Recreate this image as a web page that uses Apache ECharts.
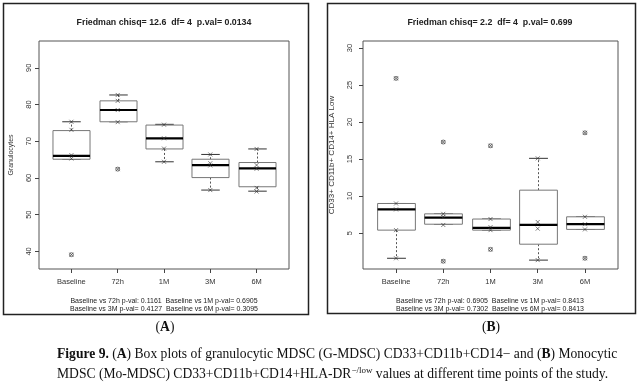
<!DOCTYPE html>
<html><head><meta charset="utf-8">
<script src="https://cdn.jsdelivr.net/npm/echarts@6/dist/echarts.min.js"></script>
<style>html,body{margin:0;padding:0;background:#fff}#c{width:640px;height:384px}</style>
</head><body><div id="c"></div>
<script>
const categories = ['Baseline', '72h', '1M', '3M', '6M'];
const catPos = [1, 2, 3, 4, 5];
// Panel A: [lower whisker, Q1, median, Q3, upper whisker]
const gStats = [
  [65.1, 65.1, 66.0, 72.9, 75.3],
  [75.3, 75.3, 78.5, 81.0, 82.6],
  [64.4, 67.9, 70.8, 74.4, 74.6],
  [56.7, 60.1, 63.5, 65.1, 66.4],
  [56.4, 57.6, 62.6, 64.2, 67.9]
];
const gOutliers = [[39.1], [62.4], [], [], []];
const gPoints = [
  [39.1, 65.3, 66.2, 73.1, 75.3],
  [62.4, 75.2, 78.5, 81.0, 82.6],
  [64.4, 68.0, 70.8, 74.5],
  [56.7, 63.4, 64.0, 66.4],
  [56.3, 57.3, 62.5, 63.5, 67.9]
];
const gTicks = [40, 50, 60, 70, 80, 90];
// Panel B
const mStats = [
  [1.6, 5.4, 8.2, 9.0, 9.0],
  [6.2, 6.2, 7.1, 7.6, 7.6],
  [5.4, 5.4, 5.7, 6.9, 6.9],
  [1.35, 3.5, 6.1, 10.8, 15.1],
  [5.5, 5.5, 6.2, 7.2, 7.2]
];
const mOutliers = [[25.9], [1.2, 17.3], [2.8, 16.8], [], [1.6, 18.55]];
const mPoints = [
  [1.6, 5.4, 8.2, 9.0, 25.9],
  [1.2, 6.1, 7.2, 7.6, 17.3],
  [2.8, 5.4, 5.8, 6.9, 16.8],
  [1.35, 5.6, 6.5, 15.1],
  [1.6, 5.5, 6.2, 7.2, 18.55]
];
const mTicks = [5, 10, 15, 20, 25, 30];

const titleA = 'Friedman chisq= 12.6  df= 4  p.val= 0.0134';
const titleB = 'Friedman chisq= 2.2  df= 4  p.val= 0.699';
const pvalA = ['Baseline vs 72h p-val: 0.1161  Baseline vs 1M p-val= 0.6905', 'Baseline vs 3M p-val= 0.4127  Baseline vs 6M p-val= 0.3095'];
const pvalB = ['Baseline vs 72h p-val: 0.6905  Baseline vs 1M p-val= 0.8413', 'Baseline vs 3M p-val= 0.7302  Baseline vs 6M p-val= 0.8413'];

const SANS = '"Liberation Sans", Arial, sans-serif';
const SERIF = '"Liberation Serif", "Times New Roman", serif';
const CAP = 13.6;

function renderBox(params, api) {
  const x = api.value(0);
  const lo = api.value(1), q1 = api.value(2), med = api.value(3), q3 = api.value(4), hi = api.value(5);
  const bw = api.size([0.8, 0])[0];
  const half = bw / 2;
  const pLo = api.coord([x, lo]), pQ1 = api.coord([x, q1]), pMed = api.coord([x, med]), pQ3 = api.coord([x, q3]), pHi = api.coord([x, hi]);
  const cx = Math.round(pMed[0]) + 0.5;
  const dash = { stroke: '#555', lineWidth: 1, lineDash: [2, 2] };
  const solid = { stroke: '#333', lineWidth: 1 };
  return {
    type: 'group',
    children: [
      { type: 'line', shape: { x1: cx, y1: pQ3[1], x2: cx, y2: pHi[1] }, style: dash },
      { type: 'line', shape: { x1: cx, y1: pQ1[1], x2: cx, y2: pLo[1] }, style: dash },
      { type: 'line', shape: { x1: cx - half / 2, y1: pHi[1], x2: cx + half / 2, y2: pHi[1] }, style: solid },
      { type: 'line', shape: { x1: cx - half / 2, y1: pLo[1], x2: cx + half / 2, y2: pLo[1] }, style: solid },
      { type: 'rect', shape: { x: cx - half, y: pQ3[1], width: bw, height: pQ1[1] - pQ3[1] }, style: { fill: '#fff', stroke: '#777', lineWidth: 1 } },
      { type: 'line', shape: { x1: cx - half, y1: pMed[1], x2: cx + half, y2: pMed[1] }, style: { stroke: '#000', lineWidth: 2.2 } }
    ]
  };
}

function panelSeries(gi, stats, outliers, points) {
  return [
    {
      type: 'custom', xAxisIndex: gi, yAxisIndex: gi, renderItem: renderBox,
      encode: { x: 0, y: [1, 2, 3, 4, 5] },
      data: stats.map((s, i) => [catPos[i]].concat(s)), z: 2
    },
    {
      type: 'scatter', xAxisIndex: gi, yAxisIndex: gi, symbol: 'circle', symbolSize: 4,
      itemStyle: { color: 'transparent', borderColor: '#333', borderWidth: 0.8 },
      data: outliers.flatMap((arr, i) => arr.map(v => [catPos[i], v])), z: 3, silent: true
    },
    {
      type: 'scatter', xAxisIndex: gi, yAxisIndex: gi, symbol: 'path://M0,0L1,1M1,0L0,1', symbolSize: 4,
      itemStyle: { color: 'transparent', borderColor: '#333', borderWidth: 0.8 },
      data: points.flatMap((arr, i) => arr.map(v => [catPos[i], v])), z: 4, silent: true
    }
  ];
}

function xAx(gi) {
  return {
    gridIndex: gi, type: 'value', min: 0.3, max: 5.7,
    axisLine: { show: false }, splitLine: { show: false },
    axisTick: { show: true, customValues: catPos, length: 4, lineStyle: { color: '#444' } },
    axisLabel: { show: true, customValues: catPos, formatter: v => categories[Math.round(v) - 1] || '', fontSize: 7.5, fontFamily: SANS, color: '#333', margin: 9 }
  };
}
function yAx(gi, min, max, ticks, name, gap, margin, nameSize) {
  return {
    gridIndex: gi, type: 'value', min: min, max: max,
    axisLine: { show: false }, splitLine: { show: false },
    axisTick: { show: true, customValues: ticks, length: 4, lineStyle: { color: '#444' } },
    axisLabel: { show: true, customValues: ticks, rotate: 90, fontSize: 7.5, fontFamily: SANS, color: '#333', margin: margin },
    name: name, nameLocation: 'middle', nameRotate: 90, nameGap: gap,
    nameTextStyle: { fontSize: nameSize, fontFamily: SANS, color: '#333' }
  };
}

function txt(x, y, text, size, weight) {
  return { type: 'text', x: x, y: y, silent: true, style: { text: text, fontSize: size, fontFamily: SANS, fontWeight: weight || 'normal', fill: '#222', align: 'center', verticalAlign: 'middle' } };
}

const richStyles = {
  b: { fontFamily: SERIF, fontSize: CAP, fontWeight: 'bold', fill: '#111' },
  sup: { fontFamily: SERIF, fontSize: 9, fill: '#111', verticalAlign: 'top' }
};

const chart = echarts.init(document.getElementById('c'), null, { renderer: 'canvas' });
chart.setOption({
  backgroundColor: '#fff',
  animation: false,
  grid: [
    { left: 39, top: 41, width: 250, height: 228, show: true, borderColor: '#555', borderWidth: 1, backgroundColor: 'transparent' },
    { left: 363, top: 41, width: 255, height: 228, show: true, borderColor: '#555', borderWidth: 1, backgroundColor: 'transparent' }
  ],
  xAxis: [xAx(0), xAx(1)],
  yAxis: [
    yAx(0, 35.2, 97.3, gTicks, 'Granulocytes', 24, 6, 7),
    yAx(1, 0.15, 30.95, mTicks, 'CD33+ CD11b+ CD14+ HLA Low', 27, 9, 8)
  ],
  series: [].concat(panelSeries(0, gStats, gOutliers, gPoints), panelSeries(1, mStats, mOutliers, mPoints)),
  graphic: [
    { type: 'rect', shape: { x: 3.5, y: 3.5, width: 305, height: 311 }, style: { fill: 'none', stroke: '#222', lineWidth: 1.5 }, silent: true },
    { type: 'rect', shape: { x: 327.5, y: 3.5, width: 308, height: 310 }, style: { fill: 'none', stroke: '#222', lineWidth: 1.5 }, silent: true },
    txt(164, 23, titleA, 8.8, 'bold'),
    txt(490, 23, titleB, 8.8, 'bold'),
    txt(164, 301, pvalA[0], 7),
    txt(164, 309, pvalA[1], 7),
    txt(490, 301, pvalB[0], 7),
    txt(490, 309, pvalB[1], 7),
    { type: 'text', x: 165, y: 327, silent: true, style: { text: '({b|A})', fontFamily: SERIF, fontSize: CAP, fill: '#111', align: 'center', verticalAlign: 'middle', rich: richStyles } },
    { type: 'text', x: 491, y: 327, silent: true, style: { text: '({b|B})', fontFamily: SERIF, fontSize: CAP, fill: '#111', align: 'center', verticalAlign: 'middle', rich: richStyles } },
    { type: 'text', x: 57, y: 354, silent: true, style: { text: '{b|Figure 9.} ({b|A}) Box plots of granulocytic MDSC (G-MDSC) CD33+CD11b+CD14\u2212 and ({b|B}) Monocytic', fontFamily: SERIF, fontSize: CAP, fill: '#111', align: 'left', verticalAlign: 'middle', rich: richStyles } },
    { type: 'text', x: 57, y: 374, silent: true, style: { text: 'MDSC (Mo-MDSC) CD33+CD11b+CD14+HLA-DR{sup|\u2212/low} values at different time points of the study.', fontFamily: SERIF, fontSize: CAP, fill: '#111', align: 'left', verticalAlign: 'middle', lineHeight: 16, rich: richStyles } }
  ]
});
</script>
</body></html>
